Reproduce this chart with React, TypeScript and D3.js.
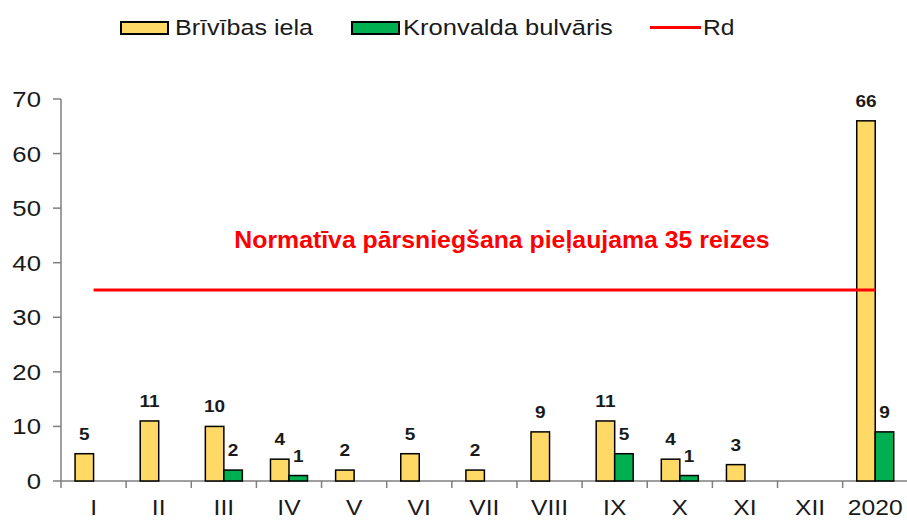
import * as d3 from "d3";
import { useEffect } from "react";
import type { ReactNode } from "react";

const categories = ["I", "II", "III", "IV", "V", "VI", "VII", "VIII", "IX", "X", "XI", "XII", "2020"];
const brivibas: (number | null)[] = [5, 11, 10, 4, 2, 5, 2, 9, 11, 4, 3, null, 66];
const kronvalda: (number | null)[] = [null, null, 2, 1, null, null, null, null, 5, 1, null, null, 9];
const rdValue = 35;
const yTicks = [0, 10, 20, 30, 40, 50, 60, 70];
const seriesNames = ["Brīvības iela", "Kronvalda bulvāris"];
const rdName = "Rd";
const note = "Normatīva pārsniegšana pieļaujama 35 reizes";

const W = 907;
const H = 521;
const margin = { top: 99, right: 0, bottom: 40, left: 61 };
const colors = ["#FFD966", "#00B050"];
const font = "Arial, 'Liberation Sans', sans-serif";

// the source picture is a bit stretched sideways, so text gets a small x-scale
function Txt({
  x,
  y,
  sx = 1.12,
  children,
  ...rest
}: {
  x: number;
  y: number;
  sx?: number;
  children: ReactNode;
  [k: string]: any;
}) {
  return (
    <text transform={`translate(${x},${y}) scale(${sx},1)`} {...rest}>
      {children}
    </text>
  );
}

export default function App() {
  useEffect(() => {
    document.body.style.margin = "0";
  }, []);

  const x0 = d3
    .scaleBand<string>()
    .domain(categories)
    .range([margin.left, 907.8])
    .padding(0);
  const bw = x0.bandwidth();
  const barW = 18.5;
  const x1 = d3
    .scaleBand<string>()
    .domain(seriesNames)
    .range([bw / 2 - barW, bw / 2 + barW]);
  const y = d3.scaleLinear().domain([0, 70]).range([H - margin.bottom, margin.top]);

  const series = [brivibas, kronvalda];
  const first = x0(categories[0])! + bw / 2;
  const last = x0(categories[categories.length - 1])! + bw / 2;

  return (
    <svg width={W} height={H} style={{ display: "block", background: "#fff" }} fontFamily={font}>
      {/* Legend */}
      <g fontSize={22} fill="#1a1a1a">
        <rect x={121} y={22} width={47} height={12} fill={colors[0]} stroke="#000" strokeWidth={2} />
        <Txt x={175} y={35} sx={1.14}>{seriesNames[0]}</Txt>
        <rect x={352} y={22} width={47} height={12} fill={colors[1]} stroke="#000" strokeWidth={2} />
        <Txt x={403} y={35} sx={1.16}>{seriesNames[1]}</Txt>
        <line x1={650} x2={701} y1={27.5} y2={27.5} stroke="#FF0000" strokeWidth={3} />
        <Txt x={703} y={35}>{rdName}</Txt>
      </g>

      {/* Y axis */}
      <line x1={margin.left} x2={margin.left} y1={y(70)} y2={y(0)} stroke="#7f7f7f" strokeWidth={1.5} />
      {yTicks.map((t) => (
        <g key={t}>
          <line x1={53} x2={margin.left} y1={y(t)} y2={y(t)} stroke="#7f7f7f" strokeWidth={1.5} />
          <Txt x={41} y={y(t) + 8} textAnchor="end" fontSize={23} fill="#1a1a1a">
            {t}
          </Txt>
        </g>
      ))}

      {/* X axis */}
      <line x1={margin.left} x2={W} y1={y(0)} y2={y(0)} stroke="#7f7f7f" strokeWidth={1.5} />
      {categories.map((c) => (
        <g key={c}>
          <line x1={x0(c)!} x2={x0(c)!} y1={y(0)} y2={y(0) + 7} stroke="#7f7f7f" strokeWidth={1.5} />
          <Txt x={x0(c)! + bw / 2} y={515} textAnchor="middle" fontSize={22} fill="#1a1a1a">
            {c}
          </Txt>
        </g>
      ))}

      {/* Bars */}
      {series.map((vals, si) =>
        vals.map((v, i) =>
          v == null ? null : (
            <g key={`${si}-${i}`}>
              <rect
                x={x0(categories[i])! + x1(seriesNames[si])!}
                y={y(v)}
                width={x1.bandwidth()}
                height={y(0) - y(v)}
                fill={colors[si]}
                stroke="#000"
                strokeWidth={1.5}
              />
              <Txt
                x={x0(categories[i])! + x1(seriesNames[si])! + x1.bandwidth() / 2}
                y={y(v) - 14}
                textAnchor="middle"
                fontSize={17}
                fontWeight="bold"
                fill="#1a1a1a"
              >
                {v}
              </Txt>
            </g>
          )
        )
      )}

      {/* Rd line */}
      <line x1={first} x2={last} y1={y(rdValue)} y2={y(rdValue)} stroke="#FF0000" strokeWidth={3} />
      <Txt x={502} y={248} sx={1.08} textAnchor="middle" fontSize={23} fontWeight="bold" fill="#FF0000">
        {note}
      </Txt>
    </svg>
  );
}
